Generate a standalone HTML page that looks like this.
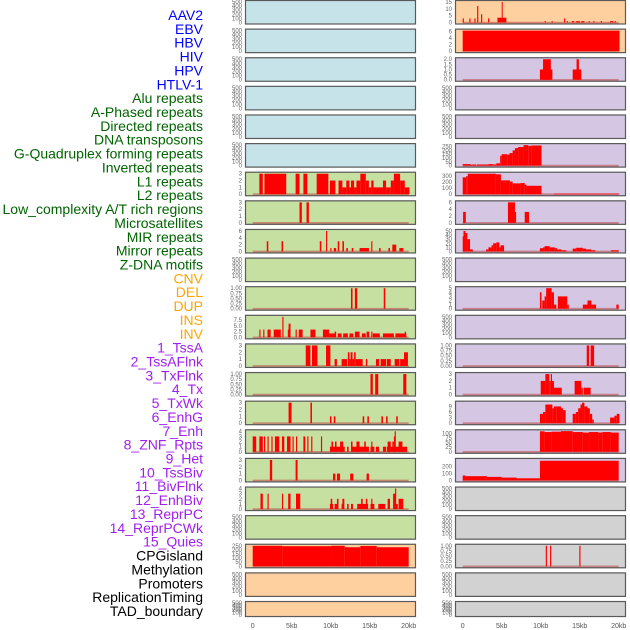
<!DOCTYPE html>
<html><head><meta charset="utf-8">
<style>
html,body{margin:0;padding:0;background:#fff;}
svg{display:block;font-family:"Liberation Sans",sans-serif;}
</style></head>
<body>
<svg id="chart" width="630" height="630" viewBox="0 0 630 630" xmlns="http://www.w3.org/2000/svg">
<g id="labels"></g>
<g id="panels"></g>
<g id="xaxis"></g>
</svg>
<script>
// ---- labels ----
const labelNames = ["AAV2","EBV","HBV","HIV","HPV","HTLV-1","Alu repeats","A-Phased repeats","Directed repeats","DNA transposons","G-Quadruplex forming repeats","Inverted repeats","L1 repeats","L2 repeats","Low_complexity A/T rich regions","Microsatellites","MIR repeats","Mirror repeats","Z-DNA motifs","CNV","DEL","DUP","INS","INV","1_TssA","2_TssAFlnk","3_TxFlnk","4_Tx","5_TxWk","6_EnhG","7_Enh","8_ZNF_Rpts","9_Het","10_TssBiv","11_BivFlnk","12_EnhBiv","13_ReprPC","14_ReprPCWk","15_Quies","CPGisland","Methylation","Promoters","ReplicationTiming","TAD_boundary"];
const labelGroupSizes = [6,13,5,15,5];
const labelGroupColors = ["#0000ff","#006400","#ffa500","#a020f0","#000000"];

// ---- x axis ----
const xTickValues = [0,5,10,15,20];
const xTickLabels = ["0","5kb","10kb","15kb","20kb"];

// ---- panel backgrounds ----
const leftColors = ["#c6e3ea","#c6e3ea","#c6e3ea","#c6e3ea","#c6e3ea","#c6e3ea","#c6e0a2","#c6e0a2","#c6e0a2","#c6e0a2","#c6e0a2","#c6e0a2","#c6e0a2","#c6e0a2","#c6e0a2","#c6e0a2","#c6e0a2","#c6e0a2","#c6e0a2","#fecf9f","#fecf9f","#fecf9f"];
const rightColors = ["#fecf9f","#fecf9f","#d5c6e3","#d5c6e3","#d5c6e3","#d5c6e3","#d5c6e3","#d5c6e3","#d5c6e3","#d5c6e3","#d5c6e3","#d5c6e3","#d5c6e3","#d5c6e3","#d5c6e3","#d5c6e3","#d5c6e3","#d2d2d2","#d2d2d2","#d2d2d2","#d2d2d2","#d2d2d2"];

// ---- y ticks ----
const tE = [0,100,200,300,400,500];
const t3 = [0,1,2,3];
const t4 = [0,1,2,3,4];
const t5 = [0,1,2,3,4,5];
const t6 = [0,2,4,6];
const t1 = [0,0.25,0.5,0.75,1];
const t75 = [0,2.5,5,7.5];
const t250 = [0,50,100,150,200,250];
const t15 = [0,5,10,15];
const t2 = [0,0.5,1,1.5,2];
const t300 = [0,100,200,300];
const t50 = [0,10,20,30,40,50];
const t9 = [0,3,6,9];
const t100 = [0,25,50,75,100];
const t200 = [0,100,200];
const leftTicks = [tE,tE,tE,tE,tE,tE,t3,t3,t6,tE,t1,t75,t3,t1,t3,t4,t3,t4,tE,t250,tE,tE];
const rightTicks = [t15,t6,t2,tE,tE,t250,t300,t6,t50,tE,t5,tE,t1,t3,t9,t100,t200,tE,tE,t1,tE,tE];
const leftMax = [500,500,500,500,500,500,3,3,6,500,1,9,3,1,3,4,3,4,500,250,500,500];
const rightMax = [15,6.2,2,500,500,270,340,6,50,500,5,500,1,3,11,112,290,500,500,1,500,500];

// ---- series: [startKb, endKb, value] ----
const L1rep = [[0.85,1.3,3],[1.5,4.3,3],[5.5,6.0,3],[6.5,7.0,3],[8.2,9.7,3],[9.9,10.6,2],[11.0,11.5,2],[11.5,12.0,1],[12.0,12.4,2],[12.4,12.6,1],[12.6,13.0,2],[13.0,13.3,1],[13.3,13.8,2],[13.8,14.5,3],[14.5,14.9,2],[14.9,15.2,1],[15.2,15.5,2],[15.5,16.7,1],[16.7,17.1,2],[17.1,17.7,1],[17.7,18.1,2],[18.1,18.9,3],[18.9,19.5,2],[19.5,20.1,1]];
const L2rep = [[6.0,6.3,3],[6.9,7.2,3]];
const lowComplex = [[1.8,2.0,3],[3.7,3.9,3],[8.6,8.8,3],[9.4,9.55,6],[9.95,10.1,1],[10.4,10.7,1],[10.9,11.1,3],[11.5,11.7,3],[12.0,12.2,1],[12.7,12.9,1],[13.7,14.9,1],[15.2,15.35,3],[16.2,16.4,1],[17.4,17.6,1],[17.9,18.4,2],[18.8,19.3,1]];
const mirRep = [[12.6,12.8,1],[13.1,13.4,1],[16.8,17.0,1]];
const zdna = [[0.85,1.0,3.4],[1.35,1.5,3.4],[1.9,2.3,3.4],[2.7,3.6,3.4],[3.8,3.95,9],[4.5,4.85,3.4],[4.6,4.85,6],[5.5,5.65,3.4],[5.9,6.4,3.4],[7.4,8.05,3.4],[9.0,9.8,3.4],[9.8,10.6,1.7],[10.5,10.7,2.5],[10.9,11.4,1.7],[11.6,12.2,1.7],[12.4,12.9,1.7],[13.1,13.7,2.5],[14.0,14.5,1.7],[14.6,14.95,2.5],[15.2,15.35,2.5],[15.4,16.3,1.7],[16.7,18.1,1.7],[18.3,19.7,1.7],[19.5,19.65,2.5]];
const cnvDel = [[6.8,7.4,3],[7.6,8.3,3],[9.4,9.96,3],[10.5,10.8,1],[11.4,12.1,1],[12.2,12.4,2],[12.4,12.55,1],[12.55,12.8,2],[12.8,13.0,1],[13.0,13.2,2],[13.2,14.1,1],[14.5,14.7,1],[15.8,16.2,1],[16.4,17.1,1],[17.2,17.7,1],[18.2,18.8,1],[18.9,19.4,1],[19.4,19.9,2]];
const dupIns = [[15.1,15.4,1],[15.7,16.1,1],[19.3,19.7,1]];
const inv = [[4.6,4.98,3],[7.4,7.6,3],[9.9,10.1,1],[10.4,10.6,1],[14.1,14.3,1],[14.7,14.9,1],[16.5,16.7,1],[17.1,17.3,1],[18.4,18.6,1]];
const tssA = [[0.0,0.45,3],[0.85,1.3,3],[1.45,1.6,3],[1.9,2.05,3],[2.4,2.55,3],[2.85,3.4,3],[3.75,4.05,3],[4.4,4.85,3],[5.1,5.25,3],[5.55,5.7,3],[6.5,6.75,3],[7.0,7.15,3],[7.5,7.65,3],[8.75,8.9,3],[9.9,11.8,1],[12.1,12.3,1],[12.7,14.9,1],[15.1,15.6,1],[15.8,16.2,1],[16.7,17.1,1],[17.2,19.8,1],[10.1,10.3,2],[10.55,10.75,2],[11.2,11.6,2],[12.6,12.8,2],[13.3,13.7,2],[14.3,14.5,2],[15.2,15.35,2],[17.3,17.7,2],[17.9,18.1,2],[18.1,18.3,3],[18.2,18.35,4],[18.7,19.2,2]];
const txFlnk = [[2.2,2.5,3],[5.5,5.75,3],[10.3,10.6,1],[10.8,11.2,1],[12.5,12.9,1],[14.6,14.9,1]];
const txWk = [[1.0,1.3,3],[1.9,2.05,3],[3.75,3.9,3],[4.55,4.85,3],[5.55,6.1,3],[9.9,10.3,1],[10.5,10.9,1],[11.4,11.7,1],[12.1,12.3,1],[12.6,12.85,1],[13.4,14.8,1],[15.1,15.6,1],[16.1,17.0,1],[17.3,17.6,2],[18.0,18.3,3],[18.25,18.4,4],[18.3,18.6,1],[18.7,19.3,2],[10.0,10.2,2],[10.8,11.0,2],[11.5,11.75,2],[13.9,14.1,2],[14.5,14.7,2],[15.2,15.35,2]];
const cpgLeft = [[0,3.8,250],[3.8,10.1,245],[10.1,11.8,250],[11.8,13.8,232],[13.8,15.9,248],[15.9,20.0,232]];

const aav2 = [[0,0.15,3],[0.85,1.0,3],[1.5,1.65,3],[1.85,2.0,12],[2.35,2.5,6],[3.25,3.4,3],[4.45,5.6,3.5],[5.0,5.12,15],[10.5,10.65,1],[11.4,11.55,1],[13.0,13.15,3],[13.35,13.5,1],[14.0,14.3,1],[14.55,15.0,1],[15.2,15.6,1],[16.15,16.3,1],[16.75,16.9,1],[17.7,17.85,1],[18.9,19.3,1],[19.5,19.65,1]];
const ebv = [[0,20.1,6.2]];
const hiv = [[9.9,11.5,1],[10.3,11.3,2],[14.1,15.2,1],[14.6,14.9,2]];
const gquad = [[0,1.0,20],[1.0,1.2,10],[1.2,1.7,15],[1.8,3.3,15],[3.3,3.9,20],[3.9,4.3,15],[4.3,4.8,30],[4.8,5.0,130],[5.0,5.7,150],[5.7,6.0,145],[6.0,6.4,165],[6.4,6.7,200],[6.7,7.1,230],[7.1,7.8,245],[7.8,8.4,270],[8.4,8.8,260],[8.8,10.1,265]];
const invRep = [[0,0.45,280],[0.45,0.65,300],[0.65,4.25,340],[4.25,4.9,330],[4.9,6.05,230],[6.05,6.4,210],[6.4,7.4,180],[7.4,7.96,185],[7.96,8.17,160],[8.17,10.1,140],[11.7,20.1,10]];
const l1Right = [[0.05,0.4,3.2],[5.8,6.7,6],[6.7,6.85,3.2],[7.95,8.5,3.2]];
const lowRight = [[0,0.1,37],[0.1,0.35,50],[0.35,0.6,45],[0.6,0.94,30],[0.94,1.3,5],[3.0,3.3,5],[3.3,3.7,10],[3.7,3.9,15],[3.9,4.3,20],[4.3,4.7,22],[4.7,4.85,10],[4.85,5.3,15],[9.9,10.3,8],[10.3,10.5,10],[10.5,11.15,13],[11.15,11.8,10],[11.8,12.1,8],[12.1,12.65,5],[12.65,13.3,3],[14.1,14.55,7],[14.55,15.4,9],[15.4,15.8,7],[15.8,16.5,5],[16.5,17.0,3],[19.0,20.0,3]];
const mirRight = [[9.9,10.1,4],[10.2,10.5,2],[10.5,10.7,3],[10.7,11.4,5],[11.4,11.7,4],[11.7,12.0,1],[12.2,13.4,3],[13.4,13.6,1],[15.4,16.0,1],[16.0,16.5,2],[16.5,17.1,1],[19.7,20.0,1]];
const delRight = [[15.9,16.2,1],[16.4,16.85,1]];
const dupRight = [[10.0,10.6,2],[10.6,11.1,3],[11.1,11.3,2],[11.3,11.45,3],[11.45,11.7,2],[11.7,12.7,1],[14.35,15.2,2],[15.2,15.4,1],[15.5,16.4,1]];
const insRight = [[9.9,10.3,5],[10.3,10.6,6],[10.6,11.5,10],[11.5,11.7,8],[11.7,12.0,9],[12.0,12.6,9],[12.6,12.85,8],[12.85,13.2,7],[14.1,14.5,5],[14.5,14.8,6],[14.8,15.1,8],[15.1,15.3,10],[15.3,15.6,11],[15.6,16.0,9],[16.0,16.3,8],[16.3,16.6,5],[16.6,16.8,2],[18.9,19.45,3],[19.45,19.75,4],[19.75,20.1,5]];
const invRight = [[9.9,10.5,112],[10.5,11.4,108],[11.4,12.6,110],[12.6,14.1,113],[14.1,15.4,108],[15.4,16.2,105],[16.2,17.4,108],[17.4,17.9,105],[17.9,19.0,108],[19.0,20.0,105]];
const tssRight = [[0,0.35,70],[0.35,3.1,60],[3.1,5.0,50],[5.0,6.9,40],[6.9,9.9,30],[9.9,20.0,278]];
const txRight = [[10.65,10.8,1],[11.2,11.35,1],[14.95,15.1,1]];

const leftSeries = [null,null,null,null,null,null,L1rep,L2rep,lowComplex,null,mirRep,zdna,cnvDel,dupIns,inv,tssA,txFlnk,txWk,null,cpgLeft,null,null];
const rightSeries = [aav2,ebv,hiv,null,null,gquad,invRep,l1Right,lowRight,null,mirRight,null,delRight,dupRight,insRight,invRight,tssRight,null,null,txRight,null,null];

// ---- drawing ----
const NS = "http://www.w3.org/2000/svg";
function mk(tag, attrs, parent){ const e=document.createElementNS(NS,tag); for(const k in attrs) e.setAttribute(k,attrs[k]); parent.appendChild(e); return e; }
const PITCH = 28.62, PH = 24.5, PPX = 7.8;
const colX = [245, 455];
const zeroX = [252.7, 462.7];
function xScale(col, kb){ return zeroX[col] + kb*PPX; }
function panelTop(i){ return i*PITCH; }
function panelH(i){ return i===21 ? 16 : PH; }
function yScale(i, max, v){ const t=panelTop(i), h=panelH(i); return t+h-2 - (v/max)*(h-4); }

const labelsG = document.getElementById('labels');
let gi=0, cnt=0;
labelNames.forEach((name,k)=>{
  while(cnt>=labelGroupSizes[gi]){ gi++; cnt=0; }
  cnt++;
  const t = mk('text',{x:203,y:(15+k*13.86+5).toFixed(1),'text-anchor':'end','font-size':'14',fill:labelGroupColors[gi]},labelsG);
  t.textContent = name;
  
  
});

const panelsG = document.getElementById('panels');
function drawPanel(col, i, color, ticks, max, series){
  const g = mk('g',{},panelsG);
  
  
  const top=panelTop(i), h=panelH(i);
  const bg = mk('rect',{x:colX[col],y:top,width:171,height:h,fill:color},g);
  
  
  ticks.forEach(v=>{
    const t = mk('text',{x:colX[col]-3,y:(yScale(i,max,v)+2).toFixed(1),'text-anchor':'end','font-size':'6',fill:'#666'},g);
    t.textContent = String(v===0.25?'0.25':v===0.5&&ticks.length===5&&max===1?'0.50':v===0.75?'0.75':(max===1&&v===1?'1.00':(max===1&&v===0?'0.00':(ticks===t75||ticks===t2?v.toFixed(1):v))));
    
    
  });
  if(series){
    const bl = mk('line',{x1:xScale(col,0),x2:xScale(col,20),y1:top+h-1.8,y2:top+h-1.8,stroke:'rgba(190,70,70,0.55)','stroke-width':2},g);
    
    
    series.forEach(s=>{
      const x1=xScale(col,s[0]), x2=xScale(col,s[1]);
      const y=yScale(i,max,s[2]), y0=yScale(i,max,0);
      const r = mk('rect',{x:x1.toFixed(2),y:y.toFixed(2),width:Math.max(1,x2-x1).toFixed(2),height:Math.max(0,y0-y).toFixed(2),fill:'#ff0000'},g);
      
      
    });
  }
  const br = mk('rect',{x:colX[col]+0.5,y:top+0.5,width:170,height:h-1,fill:'none',stroke:'#5a5a5a','stroke-width':1.2},g);
  
  
}
for(let i=0;i<22;i++){
  drawPanel(0,i,leftColors[i],leftTicks[i],leftMax[i],leftSeries[i]);
  drawPanel(1,i,rightColors[i],rightTicks[i],rightMax[i],rightSeries[i]);
}

const xg = document.getElementById('xaxis');
[0,1].forEach(col=>{
  xTickValues.forEach((v,k)=>{
    const t = mk('text',{x:xScale(col,v).toFixed(1),y:628,'text-anchor':'middle','font-size':'7',fill:'#555'},xg);
    t.textContent = xTickLabels[k];
    
    
  });
});
</script>
</body></html>
